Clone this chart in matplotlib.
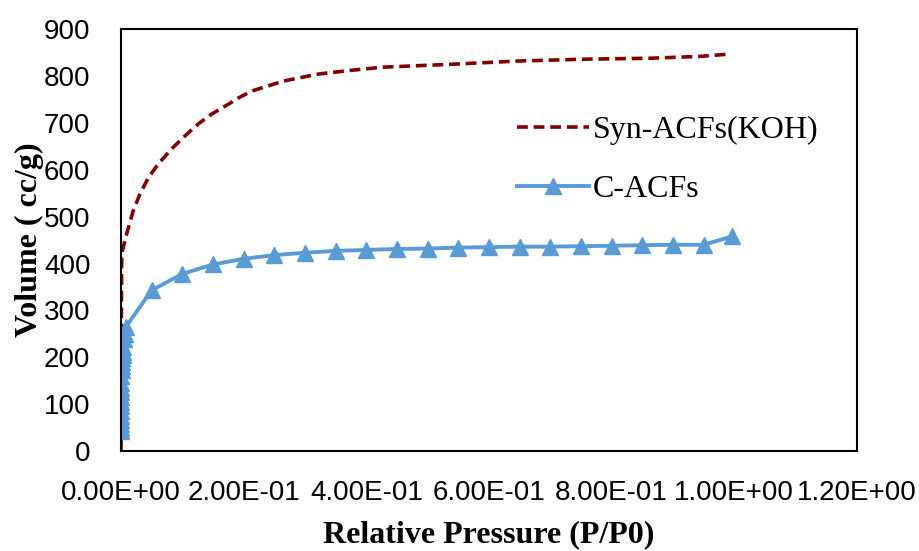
import matplotlib
matplotlib.use('Agg')
import matplotlib.pyplot as plt
from matplotlib.ticker import FuncFormatter

# Syn-ACFs(KOH) isotherm
syn_x = [0.0, 0.0003, 0.0006, 0.0011, 0.0093, 0.020, 0.031, 0.0445, 0.061, 0.0827,
         0.104, 0.126, 0.148, 0.170, 0.191, 0.213, 0.264, 0.320, 0.373, 0.427,
         0.536, 0.646, 0.753, 0.862, 0.944, 0.993]
syn_y = [0, 150, 300, 421, 464, 513, 549, 583, 613, 645,
         672, 698, 719, 736, 753, 768, 789, 804, 812, 819,
         825, 832, 836, 838, 842, 847]

# C-ACFs isotherm
cacf_x = [0.00001, 0.00002, 0.00003, 0.00004, 0.00006, 0.00008, 0.0001, 0.00015,
          0.0002, 0.0003, 0.0004, 0.0005, 0.0007, 0.001, 0.0013, 0.0017, 0.002,
          0.0025, 0.003, 0.004, 0.005, 0.006, 0.008,
          0.05, 0.10, 0.15, 0.20, 0.25, 0.30, 0.35, 0.40, 0.45, 0.50,
          0.55, 0.60, 0.65, 0.70, 0.75, 0.80, 0.85, 0.90, 0.95, 0.997]
cacf_y = [42, 50, 58, 66, 75, 85, 95, 105, 115, 125, 135, 145, 160, 172, 182, 190, 198,
          205, 212, 222, 238, 250, 265,
          343, 378, 398, 410, 418, 423, 427, 429, 431, 432,
          434, 435, 436, 436, 437, 438, 439, 440, 440, 458]

y_ticks = [0, 100, 200, 300, 400, 500, 600, 700, 800, 900]
x_ticks = [0.0, 0.2, 0.4, 0.6, 0.8, 1.0, 1.2]

fig = plt.figure(figsize=(9.19, 5.51), dpi=100)
ax = fig.add_axes([0.1317, 0.1815, 0.8008, 0.7655])

ax.plot(syn_x, syn_y, color='#800000', lw=2.6, linestyle=(0, (3, 1.6)),
        label='Syn-ACFs(KOH)')
ax.plot(cacf_x, cacf_y, color='#5B9BD5', lw=2.8, marker='^', markersize=12,
        label='C-ACFs')

ax.set_xlim(0, 1.2)
ax.set_ylim(0, 900)
ax.set_xticks(x_ticks)
ax.set_yticks(y_ticks)
ax.xaxis.set_major_formatter(FuncFormatter(lambda v, p: '%.2E' % v))
ax.tick_params(length=0, labelsize=20)
ax.tick_params(axis='y', pad=22)
ax.tick_params(axis='x', pad=21)
for lab in ax.get_xticklabels() + ax.get_yticklabels():
    lab.set_family(['Liberation Sans', 'DejaVu Sans'])
for s in ax.spines.values():
    s.set_linewidth(1.5)
    s.set_color('black')

ax.set_xlabel('Relative Pressure (P/P0)', family='Liberation Serif',
              fontweight='bold', fontsize=23)
ax.set_ylabel('Volume ( cc/g)', family='Liberation Serif',
              fontweight='bold', fontsize=23)
ax.xaxis.set_label_coords(0.5, -0.163)
ax.yaxis.set_label_coords(-0.104, 0.502)

leg = ax.legend(loc='upper left', bbox_to_anchor=(0.516, 0.832), frameon=False,
                prop={'family': 'Liberation Serif', 'size': 23}, borderpad=0,
                handlelength=2.25, labelspacing=0.93, handletextpad=0.12)

fig.savefig('out.png', dpi=100)
